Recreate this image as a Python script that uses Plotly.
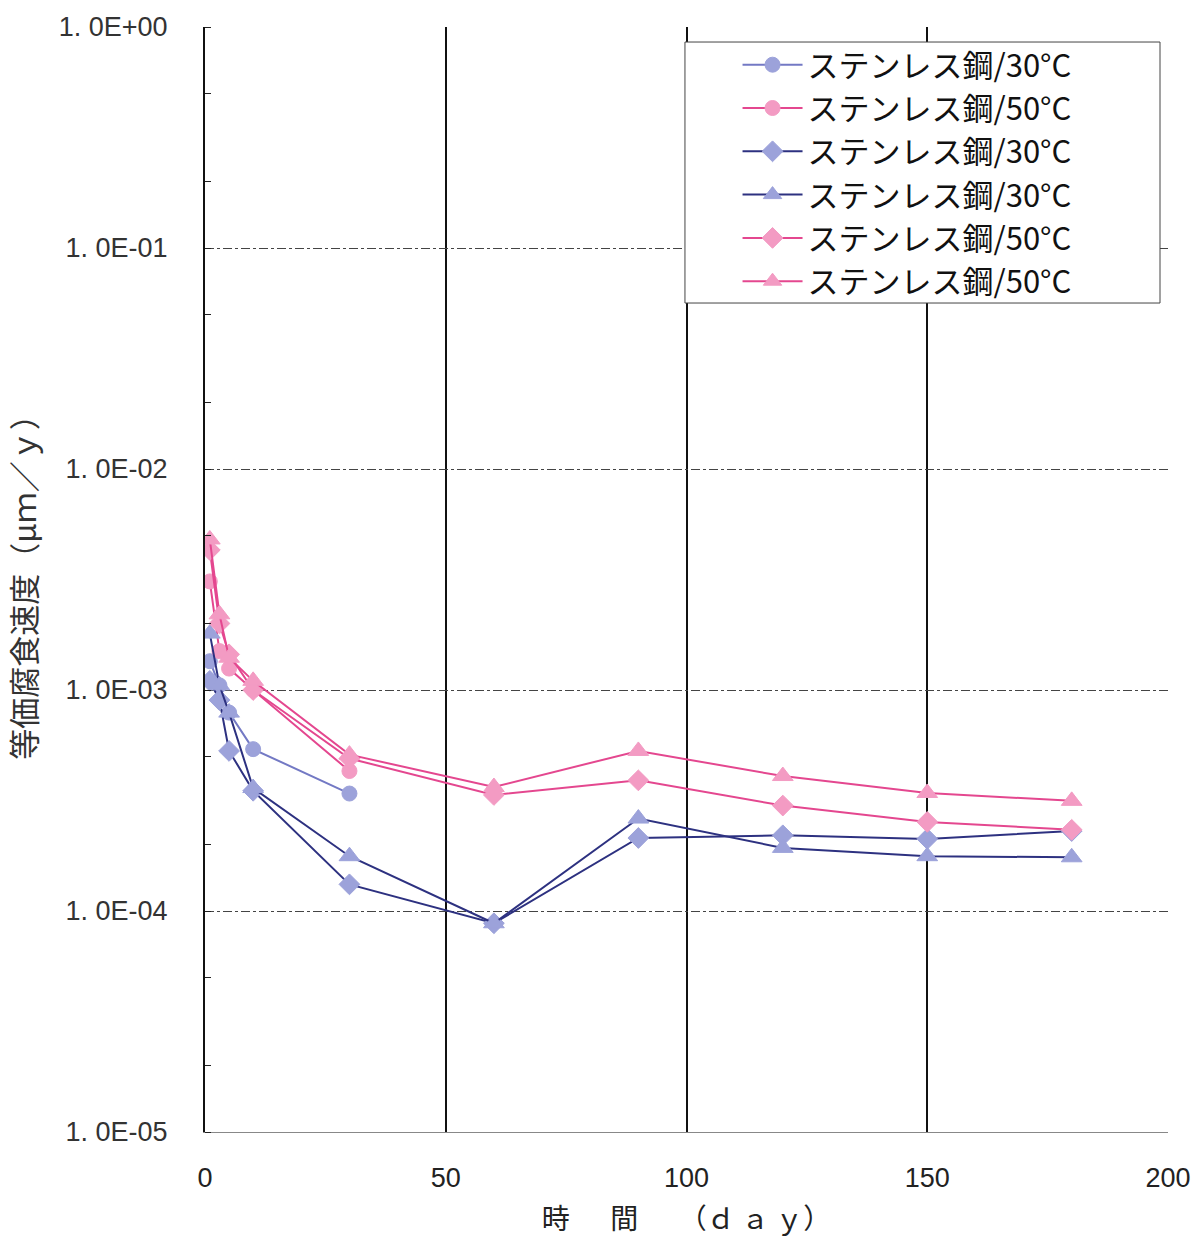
import plotly.graph_objects as go

# ---- data ----
days_short = [1, 3, 5, 10, 30]
days_long = [1, 3, 5, 10, 30, 60, 90, 120, 150, 180]

circle_30 = [1.35e-3, 1.05e-3, 7.9e-4, 5.4e-4, 3.4e-4]
circle_50 = [3.1e-3, 1.5e-3, 1.25e-3, 1.0e-3, 4.3e-4]
diamond_30 = [1.1e-3, 9.0e-4, 5.3e-4, 3.5e-4, 1.32e-4, 8.8e-5, 2.14e-4, 2.2e-4, 2.12e-4, 2.3e-4]
triangle_30 = [1.8e-3, 1.05e-3, 7.9e-4, 3.6e-4, 1.77e-4, 8.8e-5, 2.62e-4, 1.93e-4, 1.77e-4, 1.75e-4]
diamond_50 = [4.3e-3, 2.0e-3, 1.45e-3, 1.0e-3, 4.9e-4, 3.35e-4, 3.9e-4, 3.0e-4, 2.53e-4, 2.33e-4]
triangle_50 = [4.8e-3, 2.2e-3, 1.4e-3, 1.1e-3, 5.1e-4, 3.64e-4, 5.3e-4, 4.08e-4, 3.42e-4, 3.15e-4]

names = ["ステンレス鋼/30°C", "ステンレス鋼/50°C", "ステンレス鋼/30°C",
         "ステンレス鋼/30°C", "ステンレス鋼/50°C", "ステンレス鋼/50°C"]

y_tickvals = [1e0, 1e-1, 1e-2, 1e-3, 1e-4, 1e-5]
y_ticktext = ["1. 0E+00", "1. 0E-01", "1. 0E-02", "1. 0E-03", "1. 0E-04", "1. 0E-05"]
x_tickvals = [0, 50, 100, 150, 200]

NAVY = "#2d3180"
BLUE_LINE = "#7379c4"
BLUE_FILL = "#9ca2da"
PINK_LINE = "#e4478f"
PINK_FILL = "#f39bc3"

series = [
    (days_short, circle_30, names[0], "circle", 15, BLUE_LINE, BLUE_FILL),
    (days_short, circle_50, names[1], "circle", 15, PINK_LINE, PINK_FILL),
    (days_long, diamond_30, names[2], "diamond", 16, NAVY, BLUE_FILL),
    (days_long, triangle_30, names[3], "triangle-up", 18, NAVY, BLUE_FILL),
    (days_long, diamond_50, names[4], "diamond", 16, PINK_LINE, PINK_FILL),
    (days_long, triangle_50, names[5], "triangle-up", 18, PINK_LINE, PINK_FILL),
]

fig = go.Figure()
for x, y, name, sym, sz, lc, fc in series:
    fig.add_trace(go.Scatter(
        x=x, y=y, name=name, mode="lines+markers",
        line=dict(color=lc, width=2),
        marker=dict(symbol=sym, size=sz, color=fc, line=dict(color=fc, width=1)),
    ))

# legend frame (style element, paper coordinates), covers the grid behind the legend
fig.add_shape(type="rect", xref="paper", yref="paper",
              x0=0.4984, x1=0.9917, y0=0.7502, y1=0.9864,
              line=dict(color="#444", width=1), fillcolor="white", layer="above")

fig.update_layout(
    width=1196, height=1245,
    margin=dict(l=205, r=28, t=27, b=113),
    paper_bgcolor="white", plot_bgcolor="white",
    font=dict(family="Liberation Sans, Noto Sans CJK JP, sans-serif", size=24, color="#222"),
    showlegend=True,
    legend=dict(
        x=0.553, y=0.99, xanchor="left", yanchor="top",
        bgcolor="rgba(0,0,0,0)", borderwidth=0,
        font=dict(family="Noto Sans CJK JP, sans-serif", size=31, color="#111"),
        itemwidth=60, tracegroupgap=0,
    ),
    xaxis=dict(
        range=[0, 200], tickvals=x_tickvals, ticks="", automargin=False,
        showgrid=True, gridcolor="#111", gridwidth=1.5,
        showline=True, linecolor="#888", linewidth=1,
        zeroline=False, ticklabelstandoff=22,
        tickfont=dict(family="Liberation Sans Narrow, Liberation Sans, sans-serif", size=27, color="#222"),
        title=dict(text="時　  間 　 （ｄ ａ ｙ）", standoff=16,
                   font=dict(family="Noto Sans CJK JP, sans-serif", size=28, color="#222")),
    ),
    yaxis=dict(
        type="log", range=[-5, 0], automargin=False,
        tickmode="array", tickvals=y_tickvals, ticktext=y_ticktext, ticks="",
        showgrid=True, gridcolor="#444", gridwidth=1, griddash="dashdot",
        showline=True, linecolor="#111", linewidth=2,
        zeroline=False, ticklabelstandoff=30,
        tickfont=dict(family="Liberation Sans, sans-serif", size=27, color="#333"),
        minor=dict(ticks="inside", ticklen=6, tickcolor="#222", showgrid=False),
        title=dict(text="等価腐食速度（μｍ／ｙ）", standoff=14,
                   font=dict(family="Noto Sans CJK JP, sans-serif", size=31, color="#333")),
    ),
)

fig.write_html("out.html")
